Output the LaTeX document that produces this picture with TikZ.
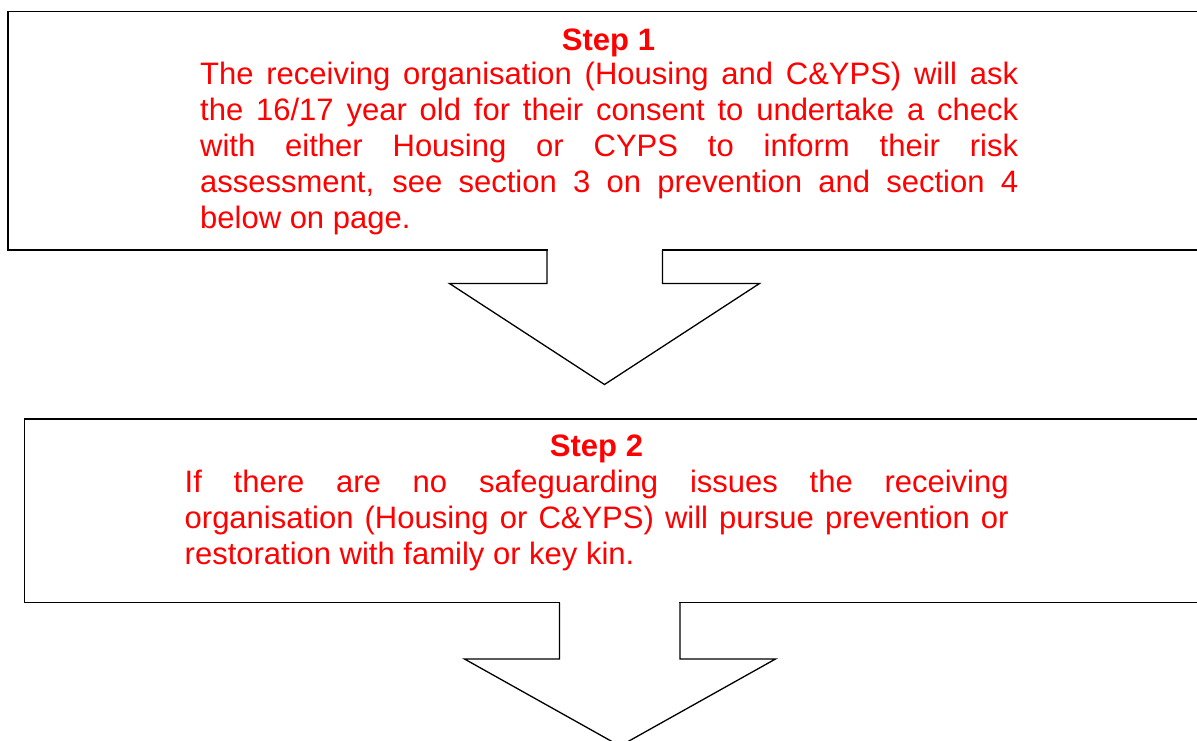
\documentclass[tikz,border=0pt]{standalone}
\usepackage{fontspec}
\setmainfont{Liberation Sans}
\definecolor{txtred}{RGB}{255,0,0}
\tikzset{
  boxline/.style={draw=black, line width=1.3pt},
  arrline/.style={draw=black, line width=1.3pt, line join=miter},
  headtext/.style={text=txtred, inner sep=0pt, anchor=base, font=\fontsize{31}{36}\selectfont\bfseries},
  bodytext/.style={text=txtred, inner sep=0pt, anchor=base west, font=\fontsize{31}{36}\selectfont},
}
\begin{document}
\begin{tikzpicture}[x=1pt,y=-1pt]
\useasboundingbox (0,0) rectangle (1197,740);
\clip (0,0) rectangle (1197,740);
\fill[white] (0,0) rectangle (1197,740);
% boxes
\draw[boxline] (8,11.5) rectangle (1230,250);
\draw[boxline] (24.5,419) rectangle (1230,602.5);
% arrow 1
\coordinate (a1l) at (547,250);
\coordinate (a1r) at (662.5,250);
\fill[white] (547.7,248) -- (547.7,284) -- (661.8,284) -- (661.8,248) -- cycle;
\draw[arrline] (a1l) -- (547,283.5) -- (449.5,283.5) -- (604.5,384.5) -- (759.5,283.5) -- (662.5,283.5) -- (a1r);
% arrow 2
\coordinate (a2l) at (559.5,602.5);
\coordinate (a2r) at (680,602.5);
\fill[white] (560.2,600.5) -- (560.2,659.5) -- (679.3,659.5) -- (679.3,600.5) -- cycle;
\draw[arrline] (a2l) -- (559.5,659) -- (464.5,659) -- (620,746) -- (775.5,659) -- (680,659) -- (a2r);
% texts
\node[headtext] (s1) at (608.5,50) {Step 1};
\node[bodytext] (t1) at (200,84) {\parbox[t]{818pt}{\fontsize{31}{36}\selectfont
The receiving organisation (Housing and C\&YPS) will ask\linebreak
the 16/17 year old for their consent to undertake a check\linebreak
with either Housing or CYPS to inform their risk\linebreak
assessment, see section 3 on prevention and section 4\linebreak
below on page.}};
\node[headtext] (s2) at (596.5,456.5) {Step 2};
\node[bodytext] (t2) at (184.5,492.5) {\parbox[t]{824pt}{\fontsize{31}{36}\selectfont
If there are no safeguarding issues the receiving\linebreak
organisation (Housing or C\&YPS) will pursue prevention or\linebreak
restoration with family or key kin.}};
\end{tikzpicture}
\end{document}
